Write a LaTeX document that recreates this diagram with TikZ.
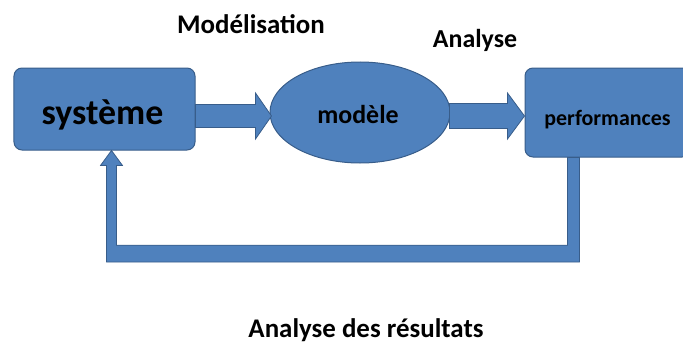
\documentclass[tikz,border=0pt]{standalone}
\usepackage{fontspec}
\setmainfont{Carlito}
\usetikzlibrary{shapes.geometric,calc}
\definecolor{boxfill}{RGB}{79,129,189}
\definecolor{boxline}{RGB}{56,93,138}
\begin{document}
\begin{tikzpicture}[x=1bp,y=1bp,
  box/.style={draw=boxline,fill=boxfill,line width=1bp,rounded corners=8bp,inner sep=0pt},
  blk/.style={draw=boxline,fill=boxfill,line width=0.8bp,line join=miter},
  lbl/.style={font=\bfseries,text=black,inner sep=0pt,anchor=base}]
   \useasboundingbox (0,0) rectangle (683,347);
   \clip (0,0) rectangle (683,347);
   % blocs
   \node[box,minimum width=181bp,minimum height=82bp] (sys) at (104.5,238) {};
   \node[box,ellipse,rounded corners=0pt,minimum width=180bp,minimum height=101bp] (mod) at (360,234.5) {};
   \node[box,minimum width=165bp,minimum height=89bp] (perf) at (607.5,234.5) {};
   \node[lbl,font=\fontsize{36}{40}\selectfont\bfseries] (tsys) at ($(sys.center)+(-2,-15)$) {syst\`eme};
   \node[lbl,font=\fontsize{26}{30}\selectfont\bfseries] (tmodl) at ($(mod.center)+(-2,-10.5)$) {mod\`ele};
   \node[lbl,font=\fontsize{22}{26}\selectfont\bfseries] (tperf) at ($(perf.center)+(0,-12.5)$) {performances};
   \coordinate (ay) at (0,231);

   % fleches
   \filldraw[blk] let \p1=(sys.east), \p2=(mod.west), \p3=(ay) in
      (\x1,\y3-11.5) -- (\x2-14,\y3-11.5) -- (\x2-14,\y3-23) -- (\x2+2,\y3) -- (\x2-14,\y3+23)
      -- (\x2-14,\y3+11.5) -- (\x1,\y3+11.5) -- cycle;
   \filldraw[blk] let \p1=(mod.east), \p2=(perf.west), \p3=(ay) in
      (\x1-1,\y3-12.5) -- (\x2-17,\y3-12.5) -- (\x2-17,\y3-23) -- (\x2,\y3) -- (\x2-17,\y3+23)
      -- (\x2-17,\y3+12.5) -- (\x1-1,\y3+12.5) -- cycle;

   % retour
   \coordinate (fbA) at ($(perf.south west)+(49,0)$);
   \coordinate (fbB) at ($(sys.south west)+(98,0)$);
   \filldraw[blk] let \p1=(fbA), \p2=(fbB) in
      (\x1-6,\y1) -- (\x1+6,\y1) -- (\x1+6,\y2-112) -- (\x2-5,\y2-112) -- (\x2-5,\y2-15)
      -- (\x2-11,\y2-15) -- (\x2,\y2) -- (\x2+11,\y2-15) -- (\x2+5,\y2-15) -- (\x2+5,\y2-95)
      -- (\x1-6,\y2-95) -- cycle;

   \node[lbl,font=\fontsize{27}{30}\selectfont\bfseries] (tmod) at (251,314) {Mod\'elisation};
   \node[lbl,font=\fontsize{26}{30}\selectfont\bfseries] (tana) at (475,300) {Analyse};
   \node[lbl,font=\fontsize{27}{30}\selectfont\bfseries] (tres) at (366,10) {Analyse des r\'esultats};
\end{tikzpicture}
\end{document}
